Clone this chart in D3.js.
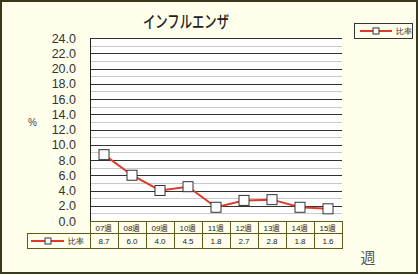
<!doctype html>
<html>
<head>
<meta charset="utf-8">
<script src="https://d3js.org/d3.v7.min.js"></script>
<style>
body { margin: 0; background: #fff; }
svg { display: block; font-family: "Liberation Sans", Arial, sans-serif; }
</style>
</head>
<body>
<svg width="418" height="274"></svg>
<script>
var weeks = ["07週", "08週", "09週", "10週", "11週", "12週", "13週", "14週", "15週"];
var ratio = [8.7, 6.0, 4.0, 4.5, 1.8, 2.7, 2.8, 1.8, 1.6];
var yTicks = [0, 2, 4, 6, 8, 10, 12, 14, 16, 18, 20, 22, 24];
var seriesName = "比率";

var svg = d3.select("svg");
var plot = {left: 90, right: 342, top: 38, bottom: 221};

// chart background + border
svg.append("rect")
    .attr("x", 1).attr("y", 1).attr("width", 416).attr("height", 272)
    .attr("fill", "#ffffec").attr("stroke", "#3a3a1a").attr("stroke-width", 2);

svg.append("rect")
    .attr("x", plot.left).attr("y", plot.top)
    .attr("width", plot.right - plot.left).attr("height", plot.bottom - plot.top)
    .attr("fill", "#ffffff");

var x = d3.scaleBand().domain(weeks).range([plot.left, plot.right]);
var y = d3.scaleLinear().domain([0, 24]).range([plot.bottom, plot.top]);

// minor grid
svg.append("g").selectAll("line")
    .data(d3.range(1, 24, 2))
    .enter().append("line")
    .attr("x1", plot.left).attr("x2", plot.right)
    .attr("y1", function(d) { return Math.round(y(d)) + 0.5; })
    .attr("y2", function(d) { return Math.round(y(d)) + 0.5; })
    .attr("stroke", "#c8c8c8").attr("stroke-width", 1);

// major grid
svg.append("g").selectAll("line")
    .data(yTicks.slice(1))
    .enter().append("line")
    .attr("x1", plot.left).attr("x2", plot.right)
    .attr("y1", function(d) { return Math.round(y(d)) + 0.5; })
    .attr("y2", function(d) { return Math.round(y(d)) + 0.5; })
    .attr("stroke", "#333333").attr("stroke-width", 1);

// y axis
var yAxis = svg.append("g")
    .attr("transform", "translate(" + plot.left + ",0)")
    .call(d3.axisLeft(y).tickValues(yTicks).tickSize(0).tickPadding(14)
        .tickFormat(d3.format(".1f")));
yAxis.select(".domain").attr("stroke", "#222").attr("stroke-width", 1);
yAxis.selectAll("text").attr("font-size", 12.5).attr("fill", "#333")
    .attr("font-family", "Liberation Sans, Arial, sans-serif");

svg.append("text").attr("x", 28).attr("y", 126)
    .attr("font-size", 10).attr("fill", "#444").text("%");

// title
svg.append("text").attr("x", 186).attr("y", 28)
    .attr("text-anchor", "middle").attr("font-size", 17).attr("font-weight", 500)
    .attr("textLength", 86).attr("lengthAdjust", "spacingAndGlyphs")
    .attr("fill", "#222").attr("font-family", "Noto Sans CJK JP")
    .text("インフルエンザ");

// data table
var tbl = {top: plot.bottom, mid: 233, bottom: 248, legendLeft: 27};
var tcol = "#5c5c1c";
var tg = svg.append("g");
tg.append("line").attr("x1", plot.left).attr("x2", plot.right)
    .attr("y1", tbl.top + 0.5).attr("y2", tbl.top + 0.5).attr("stroke", tcol);
tg.append("line").attr("x1", tbl.legendLeft).attr("x2", plot.right)
    .attr("y1", tbl.mid + 0.5).attr("y2", tbl.mid + 0.5).attr("stroke", tcol);
tg.append("line").attr("x1", tbl.legendLeft).attr("x2", plot.right)
    .attr("y1", tbl.bottom + 0.5).attr("y2", tbl.bottom + 0.5).attr("stroke", tcol);
tg.append("line").attr("x1", tbl.legendLeft + 0.5).attr("x2", tbl.legendLeft + 0.5)
    .attr("y1", tbl.mid).attr("y2", tbl.bottom + 1).attr("stroke", tcol);
tg.selectAll(".vb").data(weeks.concat(["end"]))
    .enter().append("line").attr("class", "vb")
    .attr("x1", function(d, i) { return Math.round(plot.left + i * x.bandwidth()) + 0.5; })
    .attr("x2", function(d, i) { return Math.round(plot.left + i * x.bandwidth()) + 0.5; })
    .attr("y1", tbl.top).attr("y2", tbl.bottom + 1).attr("stroke", tcol);

tg.selectAll(".wk").data(weeks).enter().append("text")
    .attr("x", function(d) { return x(d) + x.bandwidth() / 2; })
    .attr("y", tbl.top + 10).attr("text-anchor", "middle")
    .attr("font-size", 8).attr("fill", "#222").text(function(d) { return d; });
tg.selectAll(".val").data(ratio).enter().append("text")
    .attr("x", function(d, i) { return x(weeks[i]) + x.bandwidth() / 2; })
    .attr("y", tbl.mid + 11).attr("text-anchor", "middle")
    .attr("font-size", 8).attr("fill", "#222").text(function(d) { return d3.format(".1f")(d); });

// table legend key
tg.append("line").attr("x1", 31).attr("x2", 64).attr("y1", 241).attr("y2", 241)
    .attr("stroke", "#e03a2a").attr("stroke-width", 2);
tg.append("rect").attr("x", 45).attr("y", 238).attr("width", 6).attr("height", 6)
    .attr("fill", "#fff").attr("stroke", "#333");
tg.append("text").attr("x", 68).attr("y", 244).attr("font-size", 8).attr("fill", "#222")
    .text(seriesName);

// series
var line = d3.line()
    .x(function(d, i) { return x(weeks[i]) + x.bandwidth() / 2; })
    .y(function(d) { return y(d); });
svg.append("path").datum(ratio).attr("d", line)
    .attr("fill", "none").attr("stroke", "#e03a2a").attr("stroke-width", 2);
svg.selectAll(".pt").data(ratio).enter().append("rect").attr("class", "pt")
    .attr("x", function(d, i) { return x(weeks[i]) + x.bandwidth() / 2 - 5; })
    .attr("y", function(d) { return y(d) - 5; })
    .attr("width", 10).attr("height", 10)
    .attr("fill", "#fff").attr("stroke", "#333").attr("stroke-width", 1);

// legend
var lg = svg.append("g");
lg.append("rect").attr("x", 354.5).attr("y", 23.5).attr("width", 58).attr("height", 15)
    .attr("fill", "#ffffec").attr("stroke", "#333").attr("stroke-width", 1);
lg.append("line").attr("x1", 360).attr("x2", 392).attr("y1", 31).attr("y2", 31)
    .attr("stroke", "#e03a2a").attr("stroke-width", 2);
lg.append("rect").attr("x", 373).attr("y", 28).attr("width", 6).attr("height", 6)
    .attr("fill", "#fff").attr("stroke", "#333");
lg.append("text").attr("x", 396).attr("y", 34).attr("font-size", 8).attr("fill", "#222")
    .text(seriesName);

// x axis title
svg.append("text").attr("x", 368).attr("y", 263).attr("text-anchor", "middle")
    .attr("font-size", 15).attr("fill", "#555").attr("font-family", "Noto Sans CJK JP")
    .text("週");
</script>
</body>
</html>
